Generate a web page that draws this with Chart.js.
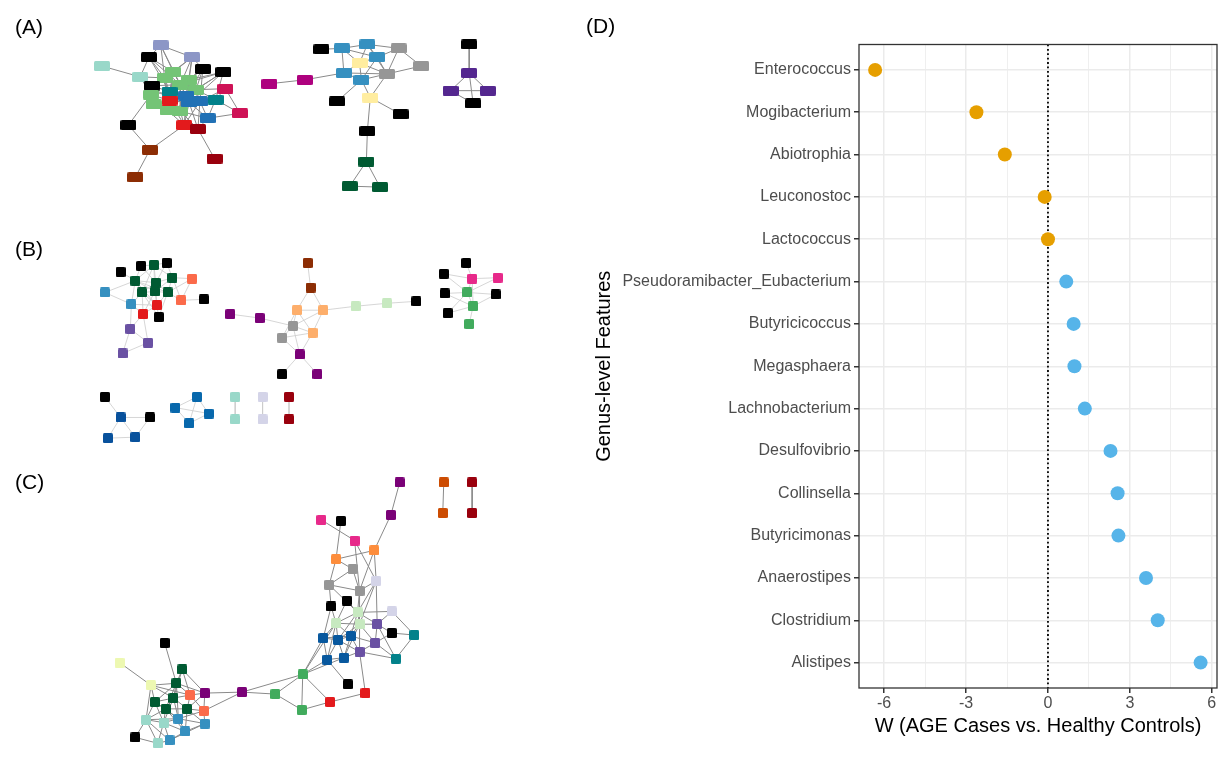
<!DOCTYPE html>
<html>
<head>
<meta charset="utf-8">
<script src="https://cdn.jsdelivr.net/npm/chart.js@4.4.0/dist/chart.umd.min.js"></script>
<style>
  html, body { margin: 0; padding: 0; background: #fff; width: 1228px; height: 768px; overflow: hidden; font-family: 'Liberation Sans', Arial, sans-serif; }
  #net { position: absolute; left: 0; top: 0; width: 580px; height: 768px; }
  #dot { position: absolute; left: 580px; top: 0; width: 648px; height: 768px; }
  .tag { position: absolute; font-size: 21px; line-height: 21px; color: #000; }
</style>
</head>
<body>
<div id="net"><canvas id="netChart"></canvas></div>
<div id="dot"><canvas id="dotChart"></canvas></div>
<div class="tag" style="left:15px;top:16px">(A)</div>
<div class="tag" style="left:15px;top:238px">(B)</div>
<div class="tag" style="left:15px;top:471px">(C)</div>
<div class="tag" style="left:586px;top:15px">(D)</div>
<script>
// ---- panel D data ----
const genus = ['Enterococcus', 'Mogibacterium', 'Abiotrophia', 'Leuconostoc', 'Lactococcus',
  'Pseudoramibacter_Eubacterium', 'Butyricicoccus', 'Megasphaera', 'Lachnobacterium', 'Desulfovibrio',
  'Collinsella', 'Butyricimonas', 'Anaerostipes', 'Clostridium', 'Alistipes'];
const wStat = [-6.33, -2.62, -1.58, -0.12, 0.0, 0.67, 0.94, 0.97, 1.35, 2.29, 2.55, 2.58, 3.59, 4.02, 5.59];
const direction = ['down', 'down', 'down', 'down', 'down', 'up', 'up', 'up', 'up', 'up', 'up', 'up', 'up', 'up', 'up'];
const xTicks = [-6, -4.5, -3, -1.5, 0, 1.5, 3, 4.5, 6];

// ---- network layouts (A, B, C): [id, x, y, module] ----
const netA = [
  ['lav1',158,40,'lav'],['blk1',146,52,'blk'],['lav2',190,52,'lav'],['mnt1',98,61,'mint'],['mnt2',137,72,'mint'],
  ['blk2',201,64,'blk'],['blk3',222,67,'blk'],['grn1',171,67,'grn'],['grn2',162,73,'grn'],['grn3',187,75,'grn'],
  ['blk4',149,81,'blk'],['grn4',178,80,'grn'],['tea1',167,87,'teal'],['grn5',194,85,'grn'],['pnk1',224,84,'pink'],
  ['grn6',148,90,'grn'],['grn7',151,100,'grn'],['grn8',165,106,'grn'],['grn9',178,107,'grn'],['red1',167,96,'red'],
  ['blu1',184,91,'blue'],['blu2',187,98,'blue'],['blu3',198,97,'blue'],['tea2',214,95,'teal'],
  ['pnk2',239,109,'pink'],['blu4',206,114,'blue'],['blk5',125,121,'blk'],['red2',182,121,'red'],['drd1',196,125,'dred'],
  ['brn1',147,146,'brown'],['drd2',213,155,'dred'],['brn2',132,174,'brown'],
  ['mbk1',322,44,'blk'],['mbl1',343,43,'sky'],['mbl2',369,39,'sky'],['mgy1',401,43,'gray'],['mbl3',379,52,'sky'],
  ['myl1',361,58,'yel'],['mgy2',424,61,'gray'],['mbl4',345,68,'sky'],['mgy3',389,69,'gray'],['mbl5',363,75,'sky'],
  ['mmg1',305,75,'mag'],['mmg2',269,79,'mag'],['myl2',372,93,'yel'],['mbk2',338,97,'blk'],['mbk3',403,110,'blk'],
  ['mbk4',369,127,'blk'],['mdg1',368,158,'dgrn'],['mdg2',351,183,'dgrn'],['mdg3',382,184,'dgrn'],
  ['rbk1',473,39,'blk'],['rpu1',473,68,'purp'],['rpu2',454,86,'purp'],['rpu3',492,86,'purp'],['rbk2',477,99,'blk']
];
const edgesA = (
  'lav1-blk1 lav1-lav2 lav1-grn1 lav1-grn4 lav1-grn2 blk1-mnt2 blk1-grn2 blk1-grn1 blk1-grn4 blk1-tea1 ' +
  'lav2-grn1 lav2-grn3 lav2-blk2 lav2-grn4 lav2-blu1 lav2-grn2 mnt1-mnt2 mnt2-grn2 mnt2-grn6 ' +
  'blk2-grn3 blk2-grn4 blk2-blu1 blk2-grn5 blk2-blu3 blk3-grn3 blk3-grn5 blk3-blu2 blk3-blu1 blk3-tea2 blk3-grn4 ' +
  'grn1-grn2 grn1-grn3 grn1-tea1 grn1-blu1 grn1-red1 grn1-grn4 grn2-blk4 grn2-tea1 grn2-grn4 grn2-red1 grn2-grn8 ' +
  'grn3-grn4 grn3-grn5 grn3-blu1 grn3-blu2 grn3-tea1 blk4-tea1 blk4-grn6 blk4-red1 blk4-grn4 ' +
  'grn4-tea1 grn4-blu1 grn4-red1 grn4-blu2 grn4-grn9 tea1-red1 tea1-blu1 tea1-grn6 tea1-grn8 tea1-blu2 ' +
  'grn5-blu1 grn5-pnk1 grn5-tea2 grn5-blu3 grn5-grn9 pnk1-tea2 pnk1-pnk2 pnk1-blu3 ' +
  'grn6-grn7 grn6-red1 grn6-grn8 grn6-blk5 blu1-red1 blu1-blu2 blu1-blu3 blu1-grn9 blu1-grn8 blu1-red2 ' +
  'red1-grn7 red1-grn8 red1-blu2 red1-grn9 red1-red2 blu2-blu3 blu2-grn9 blu2-red2 blu2-drd1 blu2-blu4 blu2-grn8 ' +
  'blu3-tea2 blu3-blu4 blu3-drd1 blu3-red2 tea2-blu4 tea2-pnk2 grn7-grn8 grn7-grn9 grn8-grn9 grn8-red2 ' +
  'grn9-red2 grn9-drd1 grn9-blu4 pnk2-blu4 blk5-brn1 brn1-red2 brn1-brn2 drd1-drd2 red2-drd1 drd1-blu4 ' +
  'mbk1-mbl1 mbl1-mbl2 mbl2-mgy1 mbl1-myl1 mbl1-mbl4 mbl1-mbl3 mbl2-mbl3 mbl2-myl1 myl1-mbl3 mgy1-mgy2 mgy1-mgy3 ' +
  'mgy1-mbl3 mbl3-mgy3 mbl3-mbl5 myl1-mbl4 myl1-mbl5 myl1-mgy3 mbl4-mbl5 mbl4-mgy3 mbl5-mgy3 mbl5-myl2 mgy3-mgy2 ' +
  'mbl4-mmg1 mmg1-mmg2 mbl5-mbk2 myl2-mbk3 myl2-mbk4 mbk4-mdg1 mdg1-mdg2 mdg1-mdg3 mdg2-mdg3 mgy3-myl2 mbl2-mgy3 ' +
  'rbk1-rpu1 rpu1-rpu2 rpu1-rpu3 rpu2-rpu3 rpu1-rbk2 rpu2-rbk2'
).split(' ');

const netB = [
  ['bk1',117,270,'blk'],['bk2',138,264,'blk'],['dg1',151,263,'dgrn'],['bk3',164,261,'blk'],['dg2',132,279,'dgrn'],
  ['dg3',153,281,'dgrn'],['dg4',170,276,'dgrn'],['or1',190,277,'coral'],['bl1',101,291,'sky'],['dg5',139,291,'dgrn'],
  ['dg6',152,290,'dgrn'],['dg7',165,291,'dgrn'],['or2',179,299,'coral'],['bk4',202,298,'blk'],['bl2',128,303,'sky'],
  ['rd1',154,304,'red'],['rd2',140,313,'red'],['bk5',156,316,'blk'],['pu1',127,328,'viol'],['pu2',145,342,'viol'],
  ['pu3',119,353,'viol'],
  ['br1',308,261,'brown'],['br2',311,286,'brown'],['pe1',297,309,'peach'],['pe2',324,309,'peach'],['lg1',357,305,'lgrn'],
  ['lg2',389,302,'lgrn'],['bk6',419,300,'blk'],['pa',229,313,'plum'],['pb',259,317,'plum'],['gy1',293,325,'gray'],
  ['pe3',313,332,'peach'],['gy2',282,337,'gray'],['pc',300,354,'plum'],['bk7',282,374,'blk'],['pd',318,374,'plum'],
  ['bk8',470,261,'blk'],['bk9',447,272,'blk'],['pk1',476,277,'hpink'],['pk2',502,276,'hpink'],['gn1',471,291,'green'],
  ['bk10',448,292,'blk'],['bk11',500,293,'blk'],['gn2',477,305,'green'],['bk12',451,312,'blk'],['gn3',473,323,'green'],
  ['bk13',101,397,'blk'],['nb1',117,418,'navy'],['bk14',147,418,'blk'],['nb2',104,439,'navy'],['nb3',132,438,'navy'],
  ['cb1',195,397,'blue2'],['cb2',173,408,'blue2'],['cb3',207,414,'blue2'],['cb4',187,424,'blue2'],
  ['mt1',234,397,'mint'],['mt2',234,420,'mint'],['lv1',262,397,'lav2'],['lv2',262,420,'lav2'],
  ['dr1',289,397,'dred'],['dr2',289,420,'dred']
];
const edgesB = (
  'bk1-dg2 bk2-dg2 bk2-dg3 bk2-dg1 dg1-dg2 dg1-dg3 dg1-dg4 dg1-dg5 dg1-dg6 bk3-dg3 bk3-dg4 bk3-dg1 dg2-dg3 dg2-dg5 ' +
  'dg2-dg6 dg2-bl1 dg2-bl2 dg2-dg7 dg3-dg4 dg3-dg5 dg3-dg6 dg3-dg7 dg3-rd1 dg4-or1 dg4-dg7 dg4-dg6 dg4-or2 or1-dg7 ' +
  'or1-or2 dg5-dg6 dg5-bl2 dg5-rd1 dg5-rd2 dg6-dg7 dg6-rd1 dg6-rd2 dg7-or2 dg7-rd1 dg7-bk5 or2-bk4 bl1-bl2 bl2-rd2 ' +
  'bl2-rd1 bl2-pu1 rd1-rd2 rd1-bk5 rd2-pu1 rd2-pu2 pu1-pu2 pu1-pu3 pu2-pu3 dg5-bk5 dg2-rd1 ' +
  'br1-br2 br2-pe1 br2-pe2 pe1-pe2 pe2-lg1 lg1-lg2 lg2-bk6 pa-pb pb-gy1 pe1-gy1 pe1-pe3 pe2-pe3 pe2-gy1 gy1-pe3 ' +
  'gy1-gy2 gy1-pc gy2-pe3 gy2-pc pe3-pc pc-bk7 pc-pd pe1-gy2 ' +
  'bk8-pk1 bk9-pk1 bk9-gn1 pk1-gn1 pk1-pk2 pk1-gn2 gn1-pk2 gn1-bk10 gn1-bk11 gn1-gn2 bk10-gn2 gn2-bk11 gn2-bk12 ' +
  'gn2-gn3 gn1-bk12 ' +
  'bk13-nb1 nb1-bk14 nb1-nb2 nb1-nb3 nb2-nb3 nb3-bk14 cb1-cb2 cb1-cb3 cb1-cb4 cb2-cb3 cb2-cb4 cb3-cb4 ' +
  'mt1-mt2 lv1-lv2 dr1-dr2'
).split(' ');

const netC = [
  ['pt',402,484,'plum'],['p2',393,517,'plum'],['ora',447,484,'rust'],['orb',446,515,'rust'],['dra',476,484,'dred'],
  ['drb',476,515,'dred'],
  ['pk1',322,522,'hpink'],['bk1',342,523,'blk'],['pk2',356,543,'hpink'],['og1',376,553,'orange'],['og2',337,562,'orange'],
  ['gy1',354,572,'gray'],['lv1',378,584,'lav2'],['gy2',330,588,'gray'],['gy3',361,594,'gray'],['bk2',348,604,'blk'],
  ['bk3',332,610,'blk'],['lg1',359,616,'lgrn'],['lv2',394,615,'lav2'],['lg2',337,627,'lgrn'],['lg3',361,628,'lgrn'],
  ['pu1',379,628,'viol'],['bk4',394,637,'blk'],['te1',417,639,'teal'],['bl1',324,642,'cblue'],['bl2',339,644,'cblue'],
  ['bl3',352,640,'cblue'],['pu2',377,647,'viol'],['pu3',361,656,'viol'],['bl4',328,664,'cblue'],['bl5',345,662,'cblue'],
  ['te2',398,663,'teal'],['gm',303,679,'green'],['bk5',349,689,'blk'],['rd1',367,698,'red'],['rd2',331,707,'red'],
  ['gn2',275,699,'green'],['gn3',302,715,'green'],['pm',241,697,'plum'],
  ['bk6',162,647,'blk'],['yl1',116,667,'lyel'],['dg1',180,674,'dgrn'],['yl2',148,690,'lyel'],['dg2',174,688,'dgrn'],
  ['or1',188,700,'coral'],['pl1',203,698,'plum'],['dg3',171,703,'dgrn'],['dg4',152,707,'dgrn'],['dg5',163,714,'dgrn'],
  ['dg6',185,714,'dgrn'],['or2',202,716,'coral'],['mt1',143,725,'mint'],['mt2',161,728,'mint'],['bl6',176,724,'sky'],
  ['bl7',203,729,'sky'],['bl8',183,737,'sky'],['bk7',132,743,'blk'],['bl9',167,746,'sky'],['mt3',155,749,'mint']
];
const edgesC = (
  'pt-p2 ora-orb dra-drb p2-og1 pk1-pk2 bk1-og2 pk2-gy3 pk2-lv1 og2-og1 og1-gy3 og1-lv1 og2-gy2 og2-gy1 gy1-gy2 ' +
  'gy1-gy3 gy2-gy3 gy2-bk3 gy2-lg1 gy3-lv1 gy3-lg1 gy3-lg3 lv1-lg3 lv1-lg1 lv1-pu1 lv2-pu1 lv2-te1 lv2-lg1 ' +
  'bk2-lg2 bk2-lg1 bk3-lg2 bk3-bl1 lg1-lg2 lg1-lg3 lg1-pu1 lg1-bl3 lg2-lg3 lg2-bl1 lg2-bl2 lg2-bl3 lg3-pu1 lg3-bl2 ' +
  'lg3-bl3 lg3-pu2 lg3-pu3 pu1-bk4 pu1-pu2 pu1-te2 bk4-te1 bk4-pu2 te1-te2 bl1-bl2 bl1-bl4 bl1-gm bl2-bl3 bl2-bl4 ' +
  'bl2-bl5 bl2-pu3 bl3-bl5 bl3-pu3 bl3-pu2 bl4-bl5 bl4-gm bl5-gm bl5-pu3 pu2-pu3 pu2-te2 pu3-te2 bl4-bk5 pu3-rd1 ' +
  'bl1-bl3 lg2-bl4 lg1-bl2 lg3-bl5 gm-gn2 gm-gn3 gm-rd2 gm-pm rd2-rd1 gn2-gn3 gn3-rd2 gn2-pm gm-lg2 pm-pl1 pm-or2 ' +
  'bk6-dg2 yl1-yl2 yl2-dg2 yl2-dg4 yl2-mt1 yl2-dg3 yl2-or1 dg1-dg2 dg1-or1 dg1-pl1 dg1-dg3 dg2-dg3 dg2-or1 dg2-dg4 ' +
  'dg2-pl1 dg2-dg5 or1-pl1 or1-dg3 or1-dg6 or1-or2 pl1-dg6 pl1-or2 dg3-dg4 dg3-dg5 dg3-dg6 dg3-bl6 dg3-mt2 dg4-dg5 ' +
  'dg4-mt1 dg4-mt2 dg5-dg6 dg5-mt1 dg5-mt2 dg5-bl6 dg5-bl8 dg6-or2 dg6-bl6 dg6-bl7 dg6-bl8 or2-bl7 or2-bl6 mt1-mt2 ' +
  'mt1-bk7 mt1-mt3 mt1-bl6 mt2-bl6 mt2-bl8 mt2-bl9 mt2-mt3 bl6-bl8 bl6-bl7 bl7-bl8 bl8-bl9 bl9-mt3 bk7-mt3 bl7-bl9 ' +
  'dg4-bl6 mt1-bl9 dg2-bl6'
).split(' ');

const moduleColors = {
  blk: '#000000', lav: '#8C96C6', mint: '#99D8C9', grn: '#74C476', teal: '#02818A', blue: '#2171B5', red: '#E31A1C',
  dred: '#99000D', pink: '#CE1256', brown: '#8C2D04', sky: '#3690C0', gray: '#969696', yel: '#FFEDA0', mag: '#AE017E',
  dgrn: '#005A32', purp: '#54278F', coral: '#FB6A4A', viol: '#6A51A3', peach: '#FDAE6B', lgrn: '#C7E9C0',
  plum: '#7A0177', hpink: '#E7298A', green: '#41AB5D', navy: '#08519C', blue2: '#0868AC', lav2: '#D4D4E8',
  rust: '#CC4C02', orange: '#FD8D3C', cblue: '#08589E', lyel: '#EDF8B1'
};

// rounded-rectangle node markers
const markerCache = {};
function marker(color, w, h) {
  const key = color + w + 'x' + h;
  if (markerCache[key]) return markerCache[key];
  const c = document.createElement('canvas');
  c.width = w; c.height = h;
  const g = c.getContext('2d');
  const r = 1.5;
  g.fillStyle = color;
  g.beginPath();
  g.moveTo(r, 0); g.lineTo(w - r, 0); g.quadraticCurveTo(w, 0, w, r);
  g.lineTo(w, h - r); g.quadraticCurveTo(w, h, w - r, h);
  g.lineTo(r, h); g.quadraticCurveTo(0, h, 0, h - r);
  g.lineTo(0, r); g.quadraticCurveTo(0, 0, r, 0);
  g.fill();
  markerCache[key] = c;
  return c;
}

function panelDatasets(nodes, edges, w, h, edgeColor, edgeWidth) {
  const byId = {};
  nodes.forEach(n => { byId[n[0]] = n; });
  const segs = [];
  edges.forEach(e => {
    const [a, b] = e.split('-');
    segs.push({ x: byId[a][1], y: byId[a][2] }, { x: byId[b][1], y: byId[b][2] }, { x: null, y: null });
  });
  return [
    {
      type: 'line', data: segs, borderColor: edgeColor, borderWidth: edgeWidth,
      pointRadius: 0, spanGaps: false, tension: 0, order: 2
    },
    {
      type: 'scatter', data: nodes.map(n => ({ x: n[1], y: n[2] })),
      pointStyle: nodes.map(n => marker(moduleColors[n[3]], w, h)),
      pointRadius: 5, order: 1
    }
  ];
}

new Chart(document.getElementById('netChart'), {
  type: 'scatter',
  data: {
    datasets: [
      ...panelDatasets(netA, edgesA, 16, 10, '#8a8a8a', 1),
      ...panelDatasets(netB, edgesB, 10, 10, '#cccccc', 0.8),
      ...panelDatasets(netC, edgesC, 10, 10, '#8a8a8a', 1)
    ]
  },
  options: {
    responsive: true, maintainAspectRatio: false, animation: false,
    layout: { padding: 0 },
    plugins: { legend: { display: false }, tooltip: { enabled: false } },
    scales: {
      x: { type: 'linear', min: 0, max: 580, display: false },
      y: { type: 'linear', min: 0, max: 768, reverse: true, display: false }
    }
  }
});

// ---- panel D chart ----
const frame = {
  id: 'frame',
  afterDatasetsDraw(chart) {
    const { ctx, chartArea: a } = chart;
    ctx.save();
    ctx.strokeStyle = '#333333';
    ctx.lineWidth = 1.3;
    ctx.strokeRect(a.left, a.top, a.right - a.left, a.bottom - a.top);
    ctx.restore();
  },
  beforeDatasetsDraw(chart) {
    // dotted reference line at W = 0
    const { ctx, chartArea: a, scales } = chart;
    const x0 = scales.x.getPixelForValue(0);
    ctx.save();
    ctx.strokeStyle = '#000';
    ctx.lineWidth = 1.8;
    ctx.setLineDash([1.8, 2.6]);
    ctx.beginPath();
    ctx.moveTo(x0, a.top);
    ctx.lineTo(x0, a.bottom);
    ctx.stroke();
    ctx.restore();
  }
};

const tickFont = { family: "'Liberation Sans', Arial, sans-serif", size: 16 };
const titleFont = { family: "'Liberation Sans', Arial, sans-serif", size: 20 };

new Chart(document.getElementById('dotChart'), {
  type: 'scatter',
  data: {
    datasets: [{
      data: wStat.map((w, i) => ({ x: w, y: i })),
      pointRadius: 7,
      pointBorderWidth: 0,
      pointBackgroundColor: direction.map(d => d === 'down' ? '#E69F00' : '#56B4E9')
    }]
  },
  options: {
    responsive: true, maintainAspectRatio: false, animation: false,
    layout: { padding: { top: 44.5, right: 11, bottom: 0, left: 0 } },
    plugins: { legend: { display: false }, tooltip: { enabled: false } },
    scales: {
      x: {
        type: 'linear', min: -6.92, max: 6.19,
        afterBuildTicks: s => { s.ticks = xTicks.map(v => ({ value: v })); },
        afterFit: s => { s.height = 80; },
        border: { display: false },
        grid: {
          color: '#EBEBEB',
          lineWidth: c => (c.tick && c.tick.value % 3 === 0) ? 1.5 : 0.8,
          tickLength: 5,
          tickColor: c => (c.tick && c.tick.value % 3 === 0) ? '#333333' : 'rgba(0,0,0,0)'
        },
        ticks: {
          autoSkip: false, maxRotation: 0, padding: 1, color: '#4D4D4D', font: tickFont,
          callback: v => v % 3 === 0 ? String(v) : ''
        },
        title: { display: true, text: 'W (AGE Cases vs. Healthy Controls)', color: '#000', font: titleFont,
          padding: { top: 0, bottom: 30 } }
      },
      y: {
        type: 'linear', min: -0.6, max: 14.6, reverse: true,
        afterBuildTicks: s => { s.ticks = genus.map((g, i) => ({ value: i })); },
        afterFit: s => { s.width = 279; },
        border: { display: false },
        grid: { color: '#EBEBEB', lineWidth: 1.5, tickLength: 5, tickColor: '#333333' },
        ticks: { autoSkip: false, padding: 3, color: '#4D4D4D', font: tickFont, callback: v => genus[v] },
        title: { display: true, text: 'Genus-level Features', color: '#000', font: titleFont,
          padding: { top: 12, bottom: 0 } }
      }
    }
  },
  plugins: [frame]
});
</script>
</body>
</html>
